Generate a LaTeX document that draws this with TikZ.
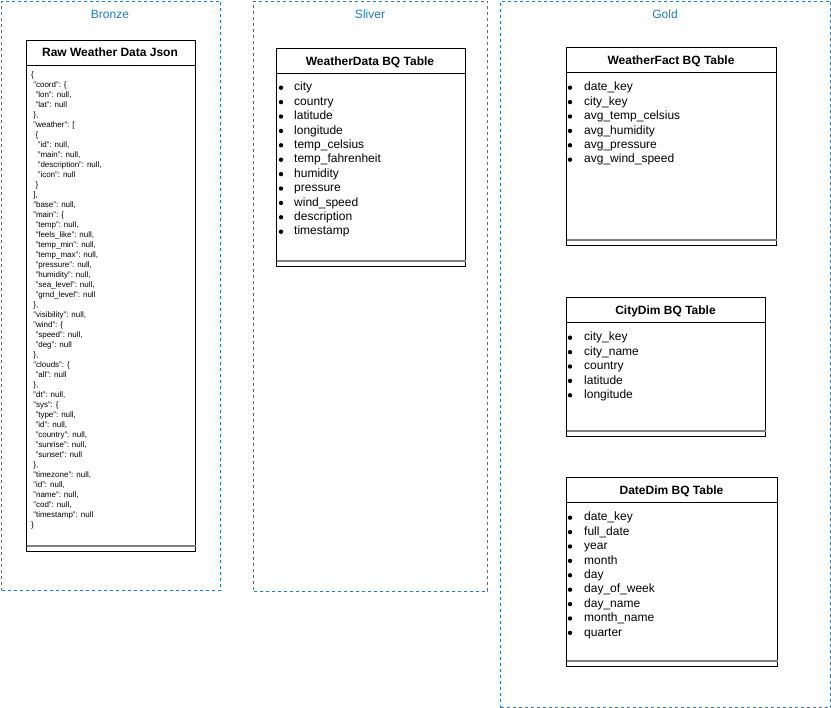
\documentclass[tikz,border=0pt]{standalone}
\usepackage{fontspec}
\setmainfont{Liberation Sans}
\definecolor{lanec}{HTML}{1A7FC1}
\definecolor{sepc}{HTML}{808080}
\begin{document}
\begin{tikzpicture}[x=1pt,y=-1pt,
  lane/.style={draw=lanec, line width=1pt, dash pattern=on 3pt off 3pt, anchor=north west, inner sep=0},
  lanelabel/.style={text=lanec, font=\fontsize{12}{14}\selectfont, anchor=base, inner sep=0},
  tbl/.style={draw=black, line width=1.1pt, anchor=north west, inner sep=0, fill=white},
  hdr/.style={font=\bfseries\fontsize{12}{14}\selectfont, anchor=base, inner sep=0},
  item/.style={font=\fontsize{12}{14}\selectfont, anchor=base west, inner sep=0},
  dot/.style={circle, fill=black, inner sep=0, minimum size=4.4pt},
  jsonline/.style={font=\fontsize{8}{10}\selectfont, anchor=base west, inner sep=0},
  sepline/.style={draw=sepc, line width=2pt},
  hline/.style={draw=black, line width=1.1pt}]

\useasboundingbox (0,0) rectangle (831,708);

% containers
\node[lane, minimum width=219pt, minimum height=589pt] (bronze) at (1,1) {};
\node[lane, minimum width=234pt, minimum height=590pt] (sliver) at (253,1) {};
\node[lane, minimum width=330pt, minimum height=706pt] (gold) at (500,1) {};
\node[lanelabel] (bronzelbl) at (110,19) {Bronze};
\node[lanelabel] (sliverlbl) at (370,19) {Sliver};
\node[lanelabel] (goldlbl) at (665,19) {Gold};

% tables
\node[tbl, minimum width=169pt, minimum height=511pt] (raw) at (26,40) {};
\node[tbl, minimum width=189pt, minimum height=218pt] (wd) at (276,48) {};
\node[tbl, minimum width=210pt, minimum height=198pt] (wf) at (566,47) {};
\node[tbl, minimum width=199pt, minimum height=139pt] (cd) at (566,297) {};
\node[tbl, minimum width=211pt, minimum height=189pt] (dd) at (566,477) {};

\foreach \t in {raw,wd,wf,cd,dd}{
  \draw[hline] ([yshift=-25.5pt]\t.north west) -- ([yshift=-25.5pt]\t.north east);
  \draw[sepline] ([xshift=0.6pt,yshift=6.5pt]\t.south west) -- ([xshift=-0.6pt,yshift=6.5pt]\t.south east);
}

% headers
\node[hdr] (rawh) at (110,57) {Raw Weather Data Json};
\node[hdr] (wdh) at (370,65.5) {WeatherData BQ Table};
\node[hdr] (wfh) at (671,64.5) {WeatherFact BQ Table};
\node[hdr] (cdh) at (665.5,314.5) {CityDim BQ Table};
\node[hdr] (ddh) at (671.5,494.5) {DateDim BQ Table};

% json
\foreach[count=\i from 0] \ind/\t in {
0/\{,
1/{"coord": \{},
2/{"lon": null,},
2/{"lat": null},
1/{\},},
1/{"weather": [},
2/\{,
3/{"id": null,},
3/{"main": null,},
3/{"description": null,},
3/{"icon": null},
2/\},
1/{],},
1/{"base": null,},
1/{"main": \{},
2/{"temp": null,},
2/{"feels\_like": null,},
2/{"temp\_min": null,},
2/{"temp\_max": null,},
2/{"pressure": null,},
2/{"humidity": null,},
2/{"sea\_level": null,},
2/{"grnd\_level": null},
1/{\},},
1/{"visibility": null,},
1/{"wind": \{},
2/{"speed": null,},
2/{"deg": null},
1/{\},},
1/{"clouds": \{},
2/{"all": null},
1/{\},},
1/{"dt": null,},
1/{"sys": \{},
2/{"type": null,},
2/{"id": null,},
2/{"country": null,},
2/{"sunrise": null,},
2/{"sunset": null},
1/{\},},
1/{"timezone": null,},
1/{"id": null,},
1/{"name": null,},
1/{"cod": null,},
1/{"timestamp": null},
0/\}}{
  \node[jsonline] (json-\i) at ({31+2.22*\ind},{78+10*\i}) {\t};
}

% WeatherData items
\foreach[count=\i from 0] \t in {city,country,latitude,longitude,temp\_celsius,temp\_fahrenheit,humidity,pressure,wind\_speed,description,timestamp}{
  \node[dot] (wd-b\i) at ({281},{87.7+14.4*\i}) {};
  \node[item] (wd-t\i) at ({294},{91+14.4*\i}) {\t};
}
% WeatherFact items
\foreach[count=\i from 0] \t in {date\_key,city\_key,avg\_temp\_celsius,avg\_humidity,avg\_pressure,avg\_wind\_speed}{
  \node[dot] (wf-b\i) at ({570},{87.7+14.4*\i}) {};
  \node[item] (wf-t\i) at ({584},{91+14.4*\i}) {\t};
}
% CityDim items
\foreach[count=\i from 0] \t in {city\_key,city\_name,country,latitude,longitude}{
  \node[dot] (cd-b\i) at ({570},{337.7+14.4*\i}) {};
  \node[item] (cd-t\i) at ({584},{341+14.4*\i}) {\t};
}
% DateDim items
\foreach[count=\i from 0] \t in {date\_key,full\_date,year,month,day,day\_of\_week,day\_name,month\_name,quarter}{
  \node[dot] (dd-b\i) at ({570},{517.7+14.4*\i}) {};
  \node[item] (dd-t\i) at ({584},{521+14.4*\i}) {\t};
}
\end{tikzpicture}
\end{document}
